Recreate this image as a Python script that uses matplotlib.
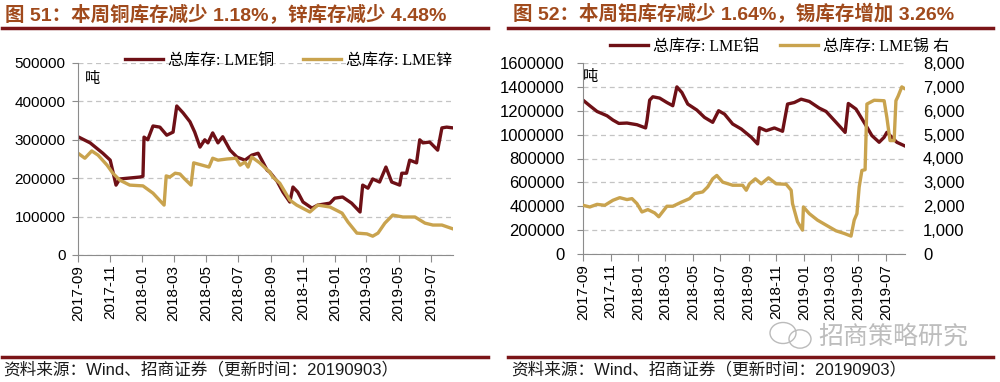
import matplotlib
matplotlib.use('Agg')
import matplotlib.pyplot as plt
import matplotlib.dates as mdates
from matplotlib.lines import Line2D
from matplotlib.patches import Ellipse
from matplotlib.ticker import FuncFormatter
import pandas as pd

# copper / zinc (left chart)
cu_dates = ['2017-09-01', '2017-09-24', '2017-10-18', '2017-11-01', '2017-11-12', '2017-11-19',
            '2017-12-27', '2018-01-02', '2018-01-04', '2018-01-11', '2018-01-21', '2018-02-03',
            '2018-02-16', '2018-02-28', '2018-03-07', '2018-03-19', '2018-04-01', '2018-04-10',
            '2018-04-20', '2018-04-29', '2018-05-05', '2018-05-14', '2018-05-24', '2018-06-02',
            '2018-06-16', '2018-06-29', '2018-07-14', '2018-07-27', '2018-08-08', '2018-08-17',
            '2018-08-25', '2018-08-30', '2018-09-13', '2018-09-24', '2018-10-07', '2018-10-13',
            '2018-10-22', '2018-11-01', '2018-11-18', '2018-11-29', '2018-12-22', '2018-12-31',
            '2019-01-15', '2019-02-01', '2019-02-17', '2019-02-22', '2019-03-04', '2019-03-13',
            '2019-03-26', '2019-04-07', '2019-04-18', '2019-05-03', '2019-05-07', '2019-05-16',
            '2019-05-22', '2019-06-04', '2019-06-10', '2019-06-16', '2019-06-29', '2019-07-14',
            '2019-07-22', '2019-07-31', '2019-08-12']
cu_vals = [308000, 292000, 265000, 247000, 182000, 198000,
           203000, 205000, 307000, 300000, 336000, 333000,
           312000, 320000, 388000, 370000, 347000, 320000,
           281000, 300000, 292000, 318000, 292000, 308000,
           273000, 255000, 247000, 260000, 265000, 242000,
           221000, 216000, 192000, 164000, 138000, 177000,
           164000, 138000, 122000, 130000, 135000, 148000,
           151000, 135000, 112000, 182000, 174000, 198000,
           190000, 229000, 190000, 182000, 213000, 213000,
           247000, 240000, 300000, 292000, 294000, 273000,
           331000, 333000, 331000]

zn_dates = ['2017-09-01', '2017-09-14', '2017-09-27', '2017-10-09', '2017-10-26', '2017-11-06',
            '2017-11-19', '2017-12-08', '2018-01-02', '2018-01-21', '2018-02-11', '2018-02-15',
            '2018-02-22', '2018-03-04', '2018-03-13', '2018-03-22', '2018-04-03', '2018-04-08',
            '2018-04-24', '2018-05-07', '2018-05-14', '2018-05-24', '2018-06-10', '2018-06-27',
            '2018-07-05', '2018-07-14', '2018-07-20', '2018-07-27', '2018-08-11', '2018-08-30',
            '2018-09-05', '2018-09-18', '2018-10-07', '2018-10-20', '2018-11-14', '2018-11-29',
            '2018-12-22', '2019-01-14', '2019-01-25', '2019-02-11', '2019-03-02', '2019-03-13',
            '2019-03-23', '2019-04-05', '2019-04-20', '2019-05-09', '2019-06-01', '2019-06-20',
            '2019-07-05', '2019-07-22', '2019-08-12']
zn_vals = [265000, 252000, 271000, 260000, 234000, 213000,
           195000, 182000, 180000, 161000, 130000, 206000,
           203000, 213000, 211000, 198000, 182000, 240000,
           234000, 229000, 252000, 247000, 250000, 252000,
           234000, 242000, 229000, 255000, 240000, 216000,
           203000, 187000, 143000, 130000, 112000, 130000,
           125000, 109000, 86000, 57000, 55000, 49000,
           57000, 83000, 104000, 99000, 99000, 83000,
           78000, 78000, 68000]

# aluminium / tin (right chart)
al_dates = ['2017-09-01', '2017-09-16', '2017-10-02', '2017-10-24', '2017-11-06', '2017-11-19',
            '2017-12-07', '2017-12-29', '2018-01-17', '2018-01-20', '2018-01-26', '2018-02-02',
            '2018-02-17', '2018-03-05', '2018-03-18', '2018-03-27', '2018-04-07', '2018-04-20',
            '2018-05-10', '2018-05-27', '2018-06-14', '2018-06-27', '2018-07-10', '2018-07-28',
            '2018-08-16', '2018-09-07', '2018-09-21', '2018-09-25', '2018-10-10', '2018-10-28',
            '2018-11-15', '2018-11-26', '2018-12-11', '2018-12-26', '2019-01-13', '2019-02-04',
            '2019-02-19', '2019-03-13', '2019-04-02', '2019-04-09', '2019-04-26', '2019-05-16',
            '2019-05-31', '2019-06-16', '2019-06-27', '2019-07-03', '2019-07-14', '2019-07-25',
            '2019-08-10']
al_vals = [1289000, 1242000, 1194000, 1158000, 1122000, 1094000,
           1097000, 1083000, 1056000, 1117000, 1289000, 1317000,
           1306000, 1269000, 1242000, 1400000, 1353000, 1256000,
           1206000, 1144000, 1103000, 1200000, 1172000, 1089000,
           1047000, 978000, 922000, 1058000, 1033000, 1056000,
           1028000, 1256000, 1269000, 1297000, 1278000, 1222000,
           1194000, 1103000, 1019000, 1261000, 1214000, 1089000,
           992000, 936000, 978000, 1019000, 978000, 936000,
           908000]

sn_dates = ['2017-09-01', '2017-09-16', '2017-10-02', '2017-10-19', '2017-11-06', '2017-11-21',
            '2017-12-07', '2017-12-18', '2017-12-29', '2018-01-09', '2018-01-22', '2018-02-06',
            '2018-02-15', '2018-03-05', '2018-03-18', '2018-04-07', '2018-04-24', '2018-05-05',
            '2018-05-23', '2018-06-03', '2018-06-14', '2018-06-23', '2018-07-06', '2018-07-28',
            '2018-08-19', '2018-08-27', '2018-09-03', '2018-09-16', '2018-09-29', '2018-10-15',
            '2018-11-01', '2018-11-23', '2018-12-04', '2018-12-07', '2018-12-18', '2018-12-29',
            '2018-12-31', '2019-01-13', '2019-01-31', '2019-02-19', '2019-03-13', '2019-03-31',
            '2019-04-15', '2019-04-22', '2019-04-28', '2019-05-03', '2019-05-09', '2019-05-16',
            '2019-05-20', '2019-06-05', '2019-06-27', '2019-07-03', '2019-07-10', '2019-07-19',
            '2019-07-23', '2019-07-28', '2019-08-05', '2019-08-10']
sn_vals = [2040, 1970, 2080, 2040, 2250, 2360,
           2280, 2320, 2110, 1760, 1860, 1720,
           1560, 2000, 2000, 2180, 2320, 2530,
           2600, 2810, 3150, 3290, 3010, 2880,
           2880, 2670, 2940, 3150, 2940, 3190,
           2940, 2920, 2670, 2110, 1350, 1000,
           1970, 1690, 1420, 1210, 970, 860,
           750, 1420, 1690, 2810, 3500, 3530,
           6280, 6440, 6420, 5720, 4750, 4750,
           6420, 6620, 7000, 6940]

c_dark = '#6E1016'
c_gold = '#C9A34E'
c_bar = '#7B1518'
c_title = '#A04A1C'

sans = ['Liberation Sans', 'Noto Sans CJK SC']
serif = ['Liberation Serif', 'Noto Sans CJK SC']

fig = plt.figure(figsize=(10, 3.82), dpi=100)

x_start = pd.Timestamp('2017-09-01')
x_end = pd.Timestamp('2019-08-12')


def style_axis(ax, fsize):
    ax.set_xlim(x_start, x_end)
    ax.xaxis.set_major_locator(mdates.MonthLocator(bymonth=[1, 3, 5, 7, 9, 11]))
    ax.xaxis.set_major_formatter(mdates.DateFormatter('%Y-%m'))
    for s in ['top', 'right']:
        ax.spines[s].set_visible(False)
    for s in ['left', 'bottom']:
        ax.spines[s].set_color('#8C8C8C')
    ax.tick_params(axis='x', rotation=90, length=5, color='#8C8C8C', pad=2)
    ax.tick_params(axis='y', length=4, color='#8C8C8C', pad=5)
    for lab in ax.get_xticklabels():
        lab.set_fontfamily(sans)
        lab.set_fontsize(11)
    for lab in ax.get_yticklabels():
        lab.set_fontfamily(sans)
        lab.set_fontsize(fsize)
    ax.yaxis.grid(True, ls=(0, (4, 3)), color='#C4C4C4', lw=0.9)
    ax.set_axisbelow(True)


# ---- left chart: copper & zinc ----
ax1 = fig.add_axes([0.078, 1 - 255 / 382, 0.375, 192 / 382])
l_cu, = ax1.plot(pd.to_datetime(cu_dates), cu_vals, color=c_dark, lw=2.4)
l_zn, = ax1.plot(pd.to_datetime(zn_dates), zn_vals, color=c_gold, lw=2.4)
ax1.set_ylim(0, 500000)
ax1.set_yticks(range(0, 500001, 100000))
style_axis(ax1, 11)
ax1.yaxis.set_major_formatter(FuncFormatter(lambda v, p: '%d' % v))
for lab in ax1.get_yticklabels():
    lab.set_fontfamily(sans)
    lab.set_fontsize(11)
fig.text(0.093, 1 - 79 / 382, '吨', fontsize=11, family=serif, ha='center', va='center')

# ---- right chart: aluminium & tin ----
ax2 = fig.add_axes([0.583, 1 - 254 / 382, 0.322, 191 / 382])
l_al, = ax2.plot(pd.to_datetime(al_dates), al_vals, color=c_dark, lw=2.4)
ax2.set_ylim(0, 1600000)
ax2.set_yticks(range(0, 1600001, 200000))
ax2.yaxis.set_major_formatter(FuncFormatter(lambda v, p: '%d' % v))
style_axis(ax2, 12)
ax2.tick_params(axis='y', pad=9)
for lab in ax2.get_yticklabels():
    lab.set_fontfamily(sans)
    lab.set_fontsize(12)

ax2r = ax2.twinx()
l_sn, = ax2r.plot(pd.to_datetime(sn_dates), sn_vals, color=c_gold, lw=2.4)
ax2r.set_ylim(0, 8000)
ax2r.set_yticks(range(0, 8001, 1000))
ax2r.yaxis.set_major_formatter(FuncFormatter(lambda v, p: '{:,.0f}'.format(v)))
for s in ['top', 'right', 'left', 'bottom']:
    ax2r.spines[s].set_visible(False)
ax2r.tick_params(axis='y', length=0, pad=13)
for lab in ax2r.get_yticklabels():
    lab.set_fontfamily(sans)
    lab.set_fontsize(12)
fig.text(0.591, 1 - 77 / 382, '吨', fontsize=11, family=serif, ha='center', va='center')

# legends, one per entry so they sit where the original has them
leg_kw = dict(loc='center left', frameon=False, handlelength=2.4, handletextpad=0.3,
              borderpad=0, borderaxespad=0, prop={'family': serif, 'size': 11.5})
fig.legend([l_cu], ['总库存: LME铜'], bbox_to_anchor=(0.125, 1 - 61 / 382), **leg_kw)
fig.legend([l_zn], ['总库存: LME锌'], bbox_to_anchor=(0.303, 1 - 61 / 382), **leg_kw)
fig.legend([l_al], ['总库存: LME铝'], bbox_to_anchor=(0.610, 1 - 47 / 382), **leg_kw)
fig.legend([l_sn], ['总库存: LME锡 右'], bbox_to_anchor=(0.780, 1 - 47 / 382), **leg_kw)

# titles + rules
fig.text(0.005, 1 - 14 / 382, '图 51：本周铜库存减少 1.18%，锌库存减少 4.48%',
         fontsize=14, fontweight='bold', family=sans, color=c_title, va='center')
fig.text(0.513, 1 - 14 / 382, '图 52：本周铝库存减少 1.64%，锡库存增加 3.26%',
         fontsize=14, fontweight='bold', family=sans, color=c_title, va='center')
for x0, x1 in [(0.002, 0.488), (0.508, 0.993)]:
    fig.add_artist(Line2D([x0, x1], [1 - 28 / 382] * 2, lw=2.5, color=c_bar))
    fig.add_artist(Line2D([x0, x1], [1 - 357 / 382] * 2, lw=2.5, color=c_bar))

src = '资料来源：Wind、招商证券（更新时间：20190903）'
fig.text(0.003, 1 - 369 / 382, src, fontsize=12, family=sans, color='#1A1A1A', va='center')
fig.text(0.511, 1 - 369 / 382, src, fontsize=12, family=sans, color='#1A1A1A', va='center')

# watermark
fig.add_artist(Ellipse((0.783, 1 - 333 / 382), 0.026, 0.055, fill=False, ec='#BBBBBB', lw=1,
                       transform=fig.transFigure))
fig.add_artist(Ellipse((0.800, 1 - 339 / 382), 0.022, 0.048, fill=False, ec='#BBBBBB', lw=1,
                       transform=fig.transFigure))
fig.text(0.818, 1 - 337 / 382, '招商策略研究', fontsize=18, family=sans, color='#BDBDBD', va='center')

fig.savefig('out.png', dpi=100)
